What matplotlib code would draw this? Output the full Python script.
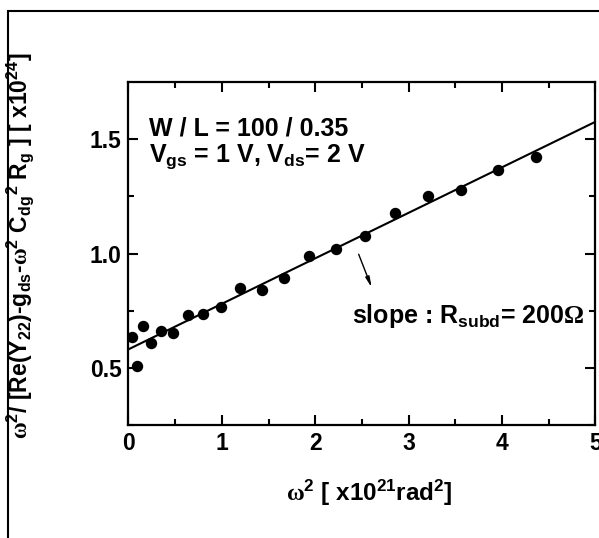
import matplotlib
matplotlib.use("Agg")
import matplotlib.pyplot as plt
from matplotlib.patches import Rectangle

# measured points (omega^2 in 1e21 rad^2, y in 1e24)
omega_sq = [0.034, 0.088, 0.152, 0.242, 0.353, 0.482, 0.632, 0.801, 0.987, 1.195,
            1.425, 1.669, 1.937, 2.224, 2.532, 2.855, 3.206, 3.565, 3.952, 4.364]
y_val = [0.637, 0.508, 0.685, 0.608, 0.663, 0.654, 0.731, 0.736, 0.765, 0.851,
         0.841, 0.891, 0.989, 1.021, 1.077, 1.176, 1.250, 1.276, 1.363, 1.424]

# linear fit endpoints
fit_x = [0.0, 5.0]
fit_y = [0.581, 1.576]

x_ticks = [0, 1, 2, 3, 4, 5]
y_ticks = [0.5, 1.0, 1.5]

plt.rcParams['font.family'] = ['Liberation Sans', 'DejaVu Sans']
plt.rcParams['font.weight'] = 'bold'
plt.rcParams['mathtext.fontset'] = 'custom'
plt.rcParams['mathtext.rm'] = 'Liberation Sans:bold'
plt.rcParams['mathtext.it'] = 'Liberation Sans:bold'
plt.rcParams['mathtext.bf'] = 'Liberation Sans:bold'
plt.rcParams['mathtext.sf'] = 'Liberation Serif'

fig = plt.figure(figsize=(5.99, 5.38), dpi=100)
ax = fig.add_axes([0.2145, 0.210, 0.7795, 0.6376])

ax.plot(fit_x, fit_y, color='black', lw=1.5, zorder=2)
ax.plot(omega_sq, y_val, 'o', color='black', ms=7.2, zorder=3)

ax.set_xlim(0, 5)
ax.set_ylim(0.25, 1.75)
ax.set_xticks(x_ticks)
ax.set_yticks(y_ticks)
ax.set_xticks([0.5, 1.5, 2.5, 3.5, 4.5], minor=True)
ax.set_yticks([0.25, 0.75, 1.25], minor=True)
ax.tick_params(which='both', direction='in', top=True, right=True, width=1.5)
ax.tick_params(which='major', length=7, labelsize=16.5, pad=5)
ax.tick_params(which='minor', length=4)
for s in ax.spines.values():
    s.set_linewidth(1.6)

ax.text(0.22, 1.515, 'W / L = 100 / 0.35', fontsize=18, va='baseline')
ax.text(0.22, 1.402, 'V$_{gs}$ = 1 V, V$_{ds}$= 2 V', fontsize=18, va='baseline')
ax.text(2.392, 0.695, r'slope : R$_{subd}$= 200$\mathsf{\Omega}$', fontsize=18, va='baseline')
ax.annotate('', xy=(2.615, 0.840), xytext=(2.454, 1.008),
            arrowprops=dict(arrowstyle='-|>,head_width=0.12,head_length=0.6',
                            color='black', lw=1.0))

fig.text(0.617, 0.0836, r'$\mathsf{\omega}^2$ [ x10$^{21}$rad$^2$]',
         fontsize=17.5, ha='center', va='center')
fig.text(0.034, 0.543,
         r'$\mathsf{\omega}^2$/ [Re(Y$_{22}$)-g$_{ds}$-$\mathsf{\omega}^2$ C$_{dg}$$^2$ R$_g$ ] [ x10$^{24}$]',
         fontsize=16.5, ha='center', va='center', rotation=90)

# outer frame (partly outside the canvas)
fig.patches.append(Rectangle((0.0134, -0.1), 2.0, 1.0796, transform=fig.transFigure,
                             fill=False, lw=1.5, ec='black'))

fig.savefig('out.png', dpi=100)
